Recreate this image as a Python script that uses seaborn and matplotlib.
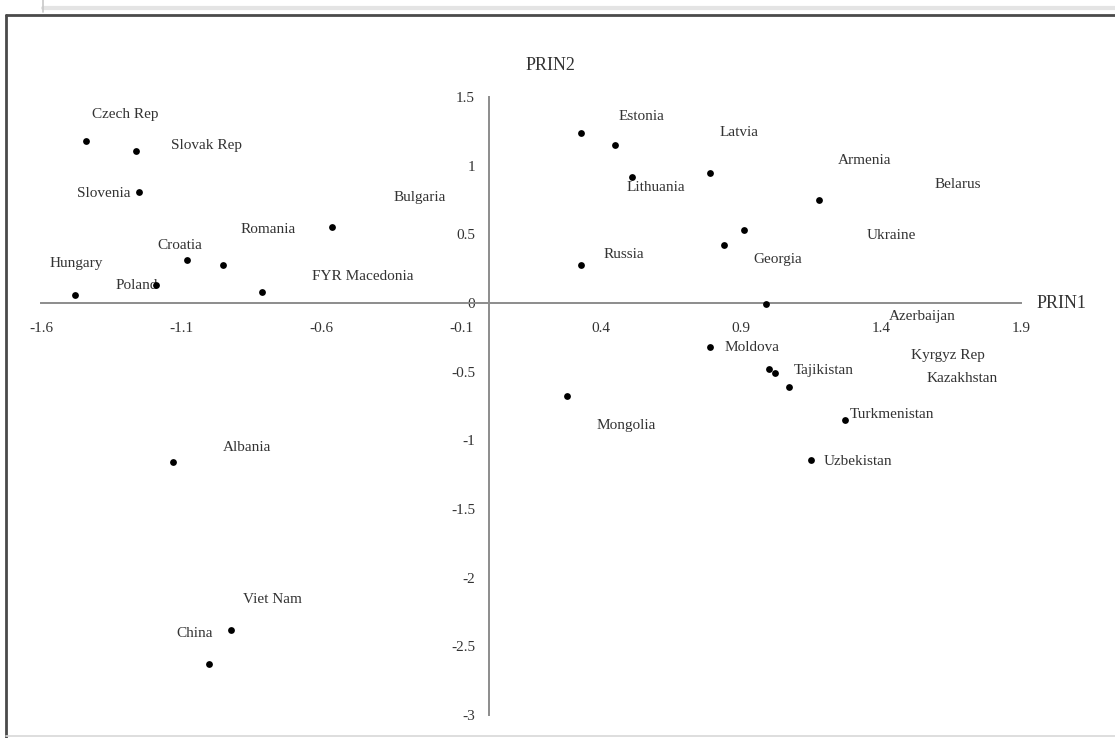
import matplotlib
matplotlib.use("Agg")
import matplotlib.pyplot as plt
from matplotlib.lines import Line2D
import seaborn as sns
import pandas as pd

# Principal component scores of transition economies
countries = [
    "Czech Rep", "Slovak Rep", "Slovenia", "Bulgaria", "Romania", "Croatia",
    "Hungary", "Poland", "FYR Macedonia", "Albania", "Viet Nam", "China",
    "Estonia", "Latvia", "Lithuania", "Belarus", "Armenia", "Ukraine",
    "Georgia", "Russia", "Azerbaijan", "Moldova", "Tajikistan", "Kyrgyz Rep",
    "Kazakhstan", "Turkmenistan", "Uzbekistan", "Mongolia",
]
prin1 = [
    -1.44, -1.26, -1.25, -0.56, -0.95, -1.08,
    -1.48, -1.19, -0.81, -1.13, -0.92, -1.00,
    0.33, 0.45, 0.51, 0.79, 1.18, 0.91,
    0.84, 0.33, 0.99, 0.79, 1.00, 1.02,
    1.07, 1.27, 1.15, 0.28,
]
prin2 = [
    1.18, 1.11, 0.81, 0.55, 0.28, 0.31,
    0.06, 0.13, 0.08, -1.16, -2.38, -2.63,
    1.24, 1.15, 0.92, 0.95, 0.75, 0.53,
    0.42, 0.28, -0.01, -0.32, -0.48, -0.51,
    -0.61, -0.85, -1.14, -0.68,
]

x_ticks = [-1.6, -1.1, -0.6, -0.1, 0.4, 0.9, 1.4, 1.9]
x_tick_labels = ["-1.6", "-1.1", "-0.6", "-0.1", "0.4", "0.9", "1.4", "1.9"]
y_ticks = [1.5, 1.0, 0.5, 0.0, -0.5, -1.0, -1.5, -2.0, -2.5, -3.0]
y_tick_labels = ["1.5", "1", "0.5", "0", "-0.5", "-1", "-1.5", "-2", "-2.5", "-3"]

# Label placement: (dx px, dy px downward, horizontal alignment)
label_offsets = {
    "Czech Rep": (6, -26, "left"),
    "Slovak Rep": (35, -5, "left"),
    "Slovenia": (-9, 2, "right"),
    "Bulgaria": (61, -30, "left"),
    "Romania": (18, -35, "left"),
    "Croatia": (-7, -15, "center"),
    "Hungary": (2, -31, "center"),
    "Poland": (2, 0, "right"),
    "FYR Macedonia": (50, -16, "left"),
    "Albania": (50, -15, "left"),
    "Viet Nam": (12, -30, "left"),
    "China": (4, -31, "right"),
    "Estonia": (37, -16, "left"),
    "Latvia": (105, -13, "left"),
    "Lithuania": (-5, 11, "left"),
    "Belarus": (224, 12, "left"),
    "Armenia": (18, -39, "left"),
    "Ukraine": (123, 5, "left"),
    "Georgia": (29, 14, "left"),
    "Russia": (22, -10, "left"),
    "Azerbaijan": (123, 12, "left"),
    "Moldova": (14, 1, "left"),
    "Tajikistan": (25, 2, "left"),
    "Kyrgyz Rep": (136, -18, "left"),
    "Kazakhstan": (138, -8, "left"),
    "Turkmenistan": (5, -5, "left"),
    "Uzbekistan": (13, 2, "left"),
    "Mongolia": (29, 29, "left"),
}

df = pd.DataFrame({"country": countries, "PRIN1": prin1, "PRIN2": prin2})

sns.set_theme(style="white")
plt.rcParams["font.family"] = ["Liberation Serif", "DejaVu Serif"]
plt.rcParams["axes.unicode_minus"] = False

W, H = 1115, 738
fig = plt.figure(figsize=(W / 100, H / 100), dpi=100)
fig.patch.set_facecolor("white")

# Page frame and header strip
frame_kw = dict(transform=fig.transFigure, color="#4a4a4a", lw=2.0)
fig.add_artist(Line2D([6 / W, 6 / W], [0, 1 - 15 / H], **frame_kw))
fig.add_artist(Line2D([6 / W, 1.0], [1 - 15 / H, 1 - 15 / H], **frame_kw))
fig.add_artist(Line2D([6 / W, 1.0], [1 - 736 / H, 1 - 736 / H],
                      transform=fig.transFigure, color="#d8d8d8", lw=1.2))
fig.add_artist(Line2D([43 / W, 1.0], [1 - 8 / H, 1 - 8 / H],
                      transform=fig.transFigure, color="#e4e4e4", lw=3))
fig.add_artist(Line2D([43 / W, 43 / W], [1 - 12 / H, 1.0],
                      transform=fig.transFigure, color="#c8c8c8", lw=1.2))

ax = fig.add_axes([41 / W, 1 - 715 / H, (1021 - 41) / W, (715 - 97) / H])
ax.set_facecolor("none")

sns.scatterplot(data=df, x="PRIN1", y="PRIN2", ax=ax, color="black",
                s=24, linewidth=0, clip_on=False, zorder=5, legend=False)

ax.set_xlim(-1.6, 1.9)
ax.set_ylim(-3.0, 1.5)

axis_color = "#8c8c8c"
for side in ("top", "right"):
    ax.spines[side].set_visible(False)
for side in ("left", "bottom"):
    ax.spines[side].set_position(("data", 0))
    ax.spines[side].set_color(axis_color)
    ax.spines[side].set_linewidth(1.4)

ax.set_xticks(x_ticks)
ax.set_xticklabels(x_tick_labels)
ax.set_yticks(y_ticks)
ax.set_yticklabels(y_tick_labels)
ax.tick_params(direction="inout", length=8, width=1.0, color=axis_color,
               labelsize=11, labelcolor="#333333")
ax.tick_params(axis="x", pad=10)
ax.tick_params(axis="y", pad=6)
ax.set_xlabel("")
ax.set_ylabel("")

ax.annotate("PRIN1", xy=(1, 0), xycoords=("axes fraction", "data"),
            xytext=(16 * 0.72, 0), textcoords="offset points",
            ha="left", va="center", fontsize=13, color="#333333")
ax.annotate("PRIN2", xy=(0, 1), xycoords=("data", "axes fraction"),
            xytext=(61 * 0.72, 32 * 0.72), textcoords="offset points",
            ha="center", va="center", fontsize=13, color="#333333")

for name, x, y in zip(countries, prin1, prin2):
    dx, dy, ha = label_offsets[name]
    ax.annotate(name, xy=(x, y), xytext=(dx * 0.72, -dy * 0.72),
                textcoords="offset points", ha=ha, va="center",
                fontsize=11, color="#333333", zorder=4)

fig.savefig("out.png", dpi=100, facecolor="white")
